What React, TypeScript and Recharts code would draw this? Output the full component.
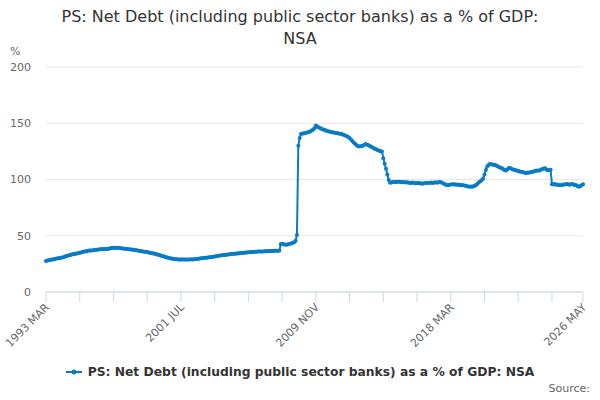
import React from "react";
import { LineChart, Line, XAxis, YAxis, CartesianGrid } from "recharts";

const COLOR = "#0a7bc4";
const FONT = "'DejaVu Sans', sans-serif";
const MONTHS = ["JAN", "FEB", "MAR", "APR", "MAY", "JUN", "JUL", "AUG", "SEP", "OCT", "NOV", "DEC"];
const START_YEAR = 1993;
const START_MONTH = 2; // March

const y1993 = [27.5, 27.9, 28.2, 28.5, 28.8, 29.0, 29.2, 29.5, 29.7, 29.9];
const y1994 = [30.1, 30.4, 30.6, 31.0, 31.4, 31.9, 32.3, 32.6, 33.0, 33.3, 33.6, 33.9];
const y1995 = [34.1, 34.3, 34.6, 34.9, 35.2, 35.6, 35.9, 36.1, 36.3, 36.6, 36.8, 37.0];
const y1996 = [37.0, 37.2, 37.4, 37.6, 37.5, 37.7, 37.9, 38.0, 38.2, 38.1, 38.3, 38.4];
const y1997 = [38.3, 38.6, 38.9, 39.1, 39.3, 39.2, 39.4, 39.3, 39.2, 39.0, 38.9, 38.7];
const y1998 = [38.5, 38.4, 38.2, 38.1, 38.0, 37.8, 37.6, 37.5, 37.3, 37.1, 36.9, 36.7];
const y1999 = [36.5, 36.3, 36.0, 35.8, 35.7, 35.5, 35.2, 35.0, 34.7, 34.5, 34.2, 33.9];
const y2000 = [33.6, 33.2, 32.8, 32.4, 32.0, 31.7, 31.3, 31.0, 30.6, 30.3, 30.0, 29.8];
const y2001 = [29.6, 29.4, 29.2, 29.1, 29.0, 29.0, 28.9, 28.9, 29.0, 28.8, 28.9, 29.0];
const y2002 = [28.9, 29.0, 29.1, 29.0, 29.2, 29.3, 29.4, 29.6, 29.8, 30.0, 30.1, 30.3];
const y2003 = [30.4, 30.5, 30.7, 30.8, 31.0, 31.2, 31.4, 31.6, 31.8, 32.0, 32.2, 32.4];
const y2004 = [32.6, 32.7, 32.9, 33.1, 33.2, 33.4, 33.5, 33.7, 33.8, 34.0, 34.1, 34.2];
const y2005 = [34.3, 34.4, 34.6, 34.7, 34.9, 35.0, 35.1, 35.2, 35.3, 35.4, 35.5, 35.6];
const y2006 = [35.6, 35.7, 35.8, 35.9, 35.9, 36.0, 36.1, 36.1, 36.2, 36.3, 36.3, 36.4];
const y2007 = [36.4, 36.5, 36.5, 36.6, 36.6, 36.7, 36.7, 36.8, 42.6, 42.8, 42.5, 42.3];
const y2008 = [42.0, 42.2, 42.6, 43.0, 43.3, 43.8, 44.3, 45.5, 50.7, 130.0, 137.0, 140.5];
const y2009 = [140.8, 141.0, 141.3, 141.6, 142.0, 142.3, 142.8, 143.5, 144.5, 145.5, 148.0, 147.2];
const y2010 = [146.5, 145.8, 145.2, 144.7, 144.2, 143.8, 143.4, 143.0, 142.6, 142.3, 142.0, 141.8];
const y2011 = [141.6, 141.4, 141.2, 140.9, 140.6, 140.4, 140.0, 139.5, 139.0, 138.5, 137.7, 136.8];
const y2012 = [135.5, 134.3, 133.0, 131.8, 130.6, 129.8, 129.4, 129.5, 129.8, 130.3, 131.0, 131.5];
const y2013 = [131.0, 130.4, 129.8, 129.2, 128.5, 127.8, 127.2, 126.6, 126.0, 125.6, 125.2, 125.0];
const y2014 = [119.0, 114.0, 109.5, 104.5, 99.5, 97.2, 97.4, 97.8, 98.0, 97.6, 97.9, 98.1];
const y2015 = [98.0, 97.7, 97.5, 97.8, 97.6, 97.3, 97.5, 97.2, 97.0, 97.4, 97.1, 96.8];
const y2016 = [96.7, 96.9, 96.6, 96.8, 96.5, 96.3, 96.6, 96.8, 97.0, 97.2, 96.9, 97.1];
const y2017 = [97.3, 97.0, 97.4, 97.6, 97.2, 97.5, 97.8, 97.3, 96.8, 96.2, 95.6, 95.2];
const y2018 = [95.0, 95.3, 95.6, 95.8, 95.5, 95.7, 95.4, 95.6, 95.3, 95.0, 95.2, 94.9];
const y2019 = [94.6, 94.4, 94.0, 93.7, 93.6, 93.8, 93.5, 93.9, 94.6, 95.3, 96.5, 97.8];
const y2020 = [98.5, 99.5, 101.0, 104.5, 108.5, 111.5, 113.0, 113.8, 113.6, 113.3, 113.0, 112.8];
const y2021 = [112.3, 111.5, 110.8, 110.5, 110.0, 109.2, 108.3, 108.0, 109.2, 110.3, 110.2, 109.6];
const y2022 = [109.0, 108.6, 108.3, 108.0, 107.6, 107.2, 107.0, 106.6, 106.3, 106.0, 105.8, 106.2];
const y2023 = [106.0, 106.4, 106.8, 107.0, 107.3, 107.8, 108.0, 107.7, 108.3, 108.8, 109.3, 109.8];
const y2024 = [110.0, 108.6, 108.3, 108.5, 108.6, 95.8, 95.5, 95.9, 95.3, 95.6, 95.2, 94.9];
const y2025 = [95.0, 95.3, 95.6, 95.8, 96.0, 95.7, 95.4, 95.8, 96.1, 95.6, 95.2, 94.8];
const y2026 = [94.0, 93.6, 94.2, 95.0, 95.8];

const SERIES = [
  ...y1993, ...y1994, ...y1995, ...y1996, ...y1997, ...y1998, ...y1999, ...y2000,
  ...y2001, ...y2002, ...y2003, ...y2004, ...y2005, ...y2006, ...y2007, ...y2008,
  ...y2009, ...y2010, ...y2011, ...y2012, ...y2013, ...y2014, ...y2015, ...y2016,
  ...y2017, ...y2018, ...y2019, ...y2020, ...y2021, ...y2022, ...y2023, ...y2024,
  ...y2025, ...y2026,
];

const monthLabel = (i: number) => {
  const m = START_MONTH + i;
  return `${START_YEAR + Math.floor(m / 12)} ${MONTHS[m % 12]}`;
};

const data = SERIES.map((v, i) => ({ i, v, label: monthLabel(i) }));
const LAST = data.length - 1;

const Y_TICKS = [0, 50, 100, 150, 200];
const X_LABELED = [0, 100, 200, 300, LAST];
const X_TICKS = [0, 25, 50, 75, 100, 125, 150, 175, 200, 225, 250, 275, 300, 325, 350, 375, LAST];

const TITLE_1 = "PS: Net Debt (including public sector banks) as a % of GDP:";
const TITLE_2 = "NSA";
const LEGEND = "PS: Net Debt (including public sector banks) as a % of GDP: NSA";

const XTick = (props: any) => {
  const { x, y, payload } = props;
  if (!X_LABELED.includes(payload.value)) return <g />;
  const tx = x + 4;
  const ty = y + 4;
  return (
    <text
      x={tx}
      y={ty}
      transform={`rotate(-45, ${tx}, ${ty})`}
      textAnchor="end"
      fill="#666666"
      fontSize={11}
      fontFamily={FONT}
    >
      {monthLabel(payload.value)}
    </text>
  );
};

export default function App() {
  return (
    <div style={{ position: "relative", width: 600, height: 400, fontFamily: FONT, background: "#fff" }}>
      <style>{"body{margin:0}"}</style>
      <div
        style={{
          position: "absolute",
          top: 6,
          left: 0,
          width: 600,
          textAlign: "center",
          fontSize: 16,
          lineHeight: "22px",
          color: "#333333",
        }}
      >
        {TITLE_1}
        <br />
        {TITLE_2}
      </div>
      <div style={{ position: "absolute", top: 45, left: 10, fontSize: 11, color: "#666666" }}>%</div>
      <LineChart
        width={600}
        height={400}
        data={data}
        margin={{ top: 67, right: 17, left: 0, bottom: 48 }}
      >
        <CartesianGrid horizontal vertical={false} stroke="#e6e6e6" />
        <XAxis
          dataKey="i"
          type="number"
          domain={[0, LAST]}
          ticks={X_TICKS}
          interval={0}
          height={60}
          stroke="#ccd6eb"
          tickSize={10}
          tickLine={{ stroke: "#ccd6eb" }}
          axisLine={{ stroke: "#ccd6eb" }}
          tick={<XTick />}
        />
        <YAxis
          domain={[0, 200]}
          ticks={Y_TICKS}
          width={46}
          axisLine={false}
          tickLine={false}
          tickMargin={9}
          tick={{ fill: "#666666", fontSize: 11, fontFamily: FONT }}
        />
        <Line
          type="linear"
          dataKey="v"
          stroke={COLOR}
          strokeWidth={2}
          dot={{ r: 2, fill: COLOR, stroke: COLOR, strokeWidth: 0 }}
          isAnimationActive={false}
        />
      </LineChart>
      <div
        style={{
          position: "absolute",
          top: 365,
          left: 0,
          width: 600,
          display: "flex",
          justifyContent: "center",
          alignItems: "center",
          fontSize: 12.3,
          fontWeight: "bold",
          color: "#333333",
        }}
      >
        <svg width={16} height={14} style={{ marginRight: 6 }}>
          <line x1={0} y1={7} x2={16} y2={7} stroke={COLOR} strokeWidth={2} />
          <circle cx={8} cy={7} r={2.5} fill={COLOR} />
        </svg>
        <span>{LEGEND}</span>
      </div>
      <div style={{ position: "absolute", top: 382, right: 10, fontSize: 11, color: "#666666" }}>Source:</div>
    </div>
  );
}
